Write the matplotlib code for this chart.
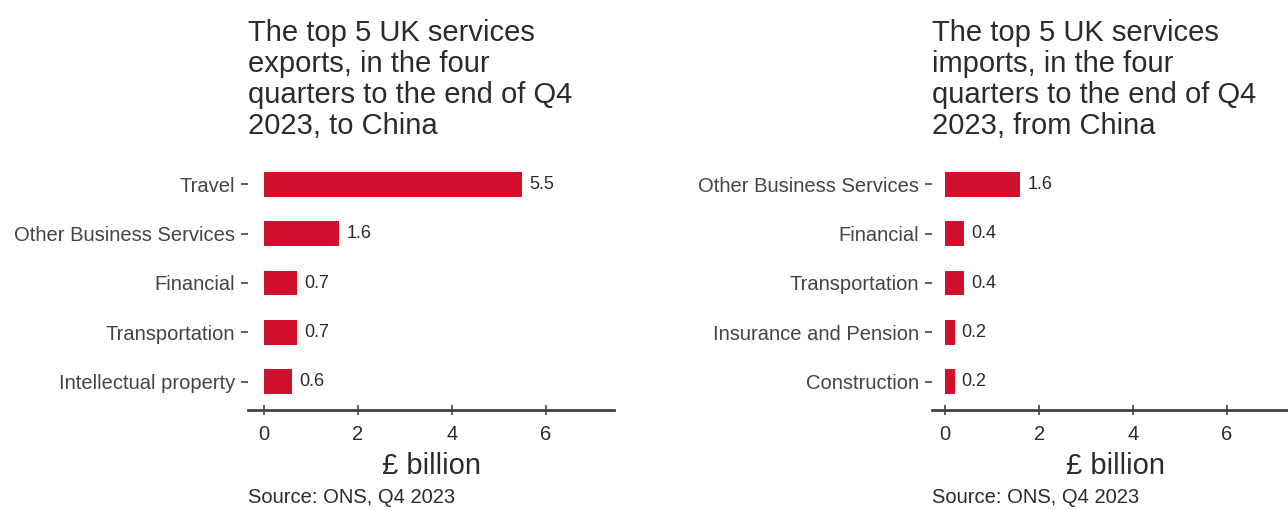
import matplotlib.pyplot as plt

plt.rcParams['font.family'] = ['Liberation Sans', 'DejaVu Sans']

# data
export_cats = ["Travel", "Other Business Services", "Financial", "Transportation", "Intellectual property"]
export_vals = [5.5, 1.6, 0.7, 0.7, 0.6]
import_cats = ["Other Business Services", "Financial", "Transportation", "Insurance and Pension", "Construction"]
import_vals = [1.6, 0.4, 0.4, 0.2, 0.2]

titles = [
    "The top 5 UK services\nexports, in the four\nquarters to the end of Q4\n2023, to China",
    "The top 5 UK services\nimports, in the four\nquarters to the end of Q4\n2023, from China",
]
source = "Source: ONS, Q4 2023"
bar_color = "#d0102c"
text_color = "#2b2b2b"

W, H = 1288, 511
fig = plt.figure(figsize=(W / 100, H / 100), dpi=100)

# (left edge px, x-axis lower limit, categories, values, title)
panels = [(248, -0.34, export_cats, export_vals, titles[0]),
          (932, -0.28, import_cats, import_vals, titles[1])]

for left_px, xmin, cats, vals, title in panels:
    ax = fig.add_axes([left_px / W, (H - 410) / H, 366 / W, 254 / H])
    ypos = list(range(len(cats)))
    ax.barh(ypos, vals, height=0.5, color=bar_color)
    for y, v in zip(ypos, vals):
        ax.text(v + 0.15, y, f"{v}", va="center", ha="left", fontsize=13, color=text_color)
    ax.set_yticks(ypos)
    ax.set_yticklabels(cats, fontsize=14.5, color=text_color)
    ax.set_ylim(len(cats) - 0.43, -0.57)
    ax.set_xlim(xmin, xmin + 7.79)
    ax.set_xticks([0, 2, 4, 6])
    ax.tick_params(axis="x", labelsize=14.5, labelcolor=text_color, colors="#444444",
                   direction="inout", length=7, width=1.2, pad=7)
    ax.tick_params(axis="y", colors="#444444", length=5, width=1.2, pad=4)
    for s in ["top", "right", "left"]:
        ax.spines[s].set_visible(False)
    ax.spines["bottom"].set_color("#444444")
    ax.spines["bottom"].set_linewidth(2)
    ax.set_xlabel("£ billion", fontsize=21, color=text_color, labelpad=6)

    fig.text(left_px / W, 1 - 19 / H, title, fontsize=21, color=text_color,
             ha="left", va="top", linespacing=1.13)
    fig.text(left_px / W, 1 - 497 / H, source, fontsize=14.5, color=text_color,
             ha="left", va="center")

fig.savefig("out.png", dpi=100)
